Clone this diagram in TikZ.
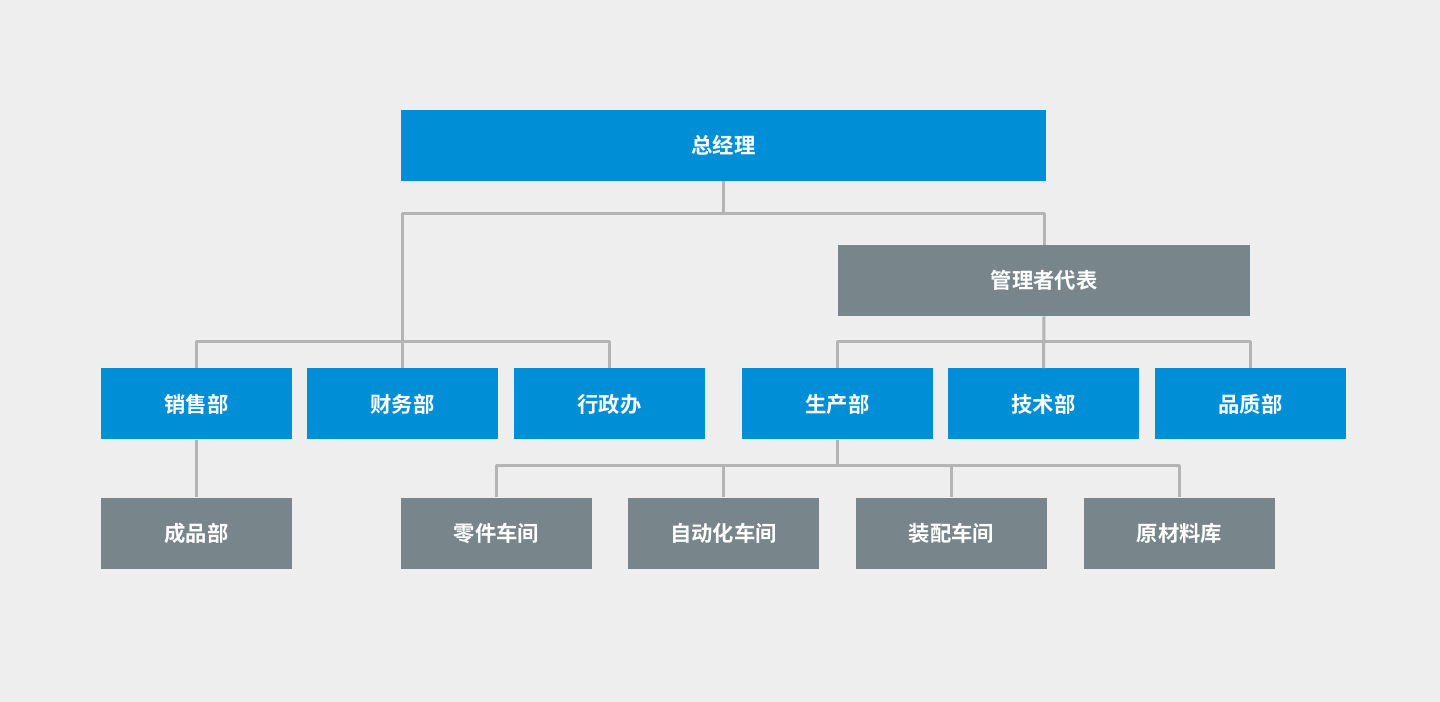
\documentclass[tikz,border=0pt]{standalone}
\usepackage{fontspec}
\setmainfont{Noto Sans CJK SC Bold}
\definecolor{bg}{HTML}{EEEEEE}
\definecolor{bluebox}{HTML}{008FD6}
\definecolor{graybox}{HTML}{78858B}
\definecolor{conncol}{HTML}{B4B4B4}
\begin{document}
\begin{tikzpicture}[x=0.75pt,y=-0.75pt,
  box/.style={inner sep=0pt,minimum height=53.25pt,minimum width=143.25pt,text=white,font=\fontsize{16}{19}\selectfont},
  bluenode/.style={box,fill=bluebox},
  graynode/.style={box,fill=graybox},
  conn/.style={draw=conncol,line width=2.25pt,line join=round}]
\fill[bg] (0,0) rectangle (1440,702);
\useasboundingbox (0,0) rectangle (1440,702);
\node[bluenode,minimum width=483.75pt] (top) at (723.5,145.5) {总经理};
\node[graynode,minimum width=309pt] (mgr) at (1044,280.5) {管理者代表};
\node[bluenode] (xs) at (196.5,404) {销售部};
\node[bluenode] (cw) at (402.5,404) {财务部};
\node[bluenode] (xz) at (609.5,404) {行政办};
\node[bluenode] (sc) at (837.5,404) {生产部};
\node[bluenode] (js) at (1043.5,404) {技术部};
\node[bluenode] (pz) at (1250.5,404) {品质部};
\node[graynode] (cp) at (196.5,533) {成品部};
\node[graynode] (lj) at (496.5,533) {零件车间};
\node[graynode] (zd) at (723.5,533) {自动化车间};
\node[graynode] (zp) at (951.5,533) {装配车间};
\node[graynode] (yl) at (1179.5,533) {原材料库};
\coordinate (b1) at (0,214);
\coordinate (b2) at (0,342);
\coordinate (b3) at (0,466);
\draw[conn] (top.south) -- (top.south |- b1);
\draw[conn] (cw.north) |- (mgr.north |- b1) -- (mgr.north);
\draw[conn] (xs.north) |- (xz.north |- b2) -- (xz.north);
\draw[conn] (mgr.south) -- (js.north);
\draw[conn] (sc.north) |- (pz.north |- b2) -- (pz.north);
\draw[conn] (xs.south) -- (cp.north);
\draw[conn] (sc.south) -- (sc.south |- b3);
\draw[conn] (lj.north) |- (yl.north |- b3) -- (yl.north);
\draw[conn] (zd.north) -- (zd.north |- b3);
\draw[conn] (zp.north) -- (zp.north |- b3);
\end{tikzpicture}
\end{document}
